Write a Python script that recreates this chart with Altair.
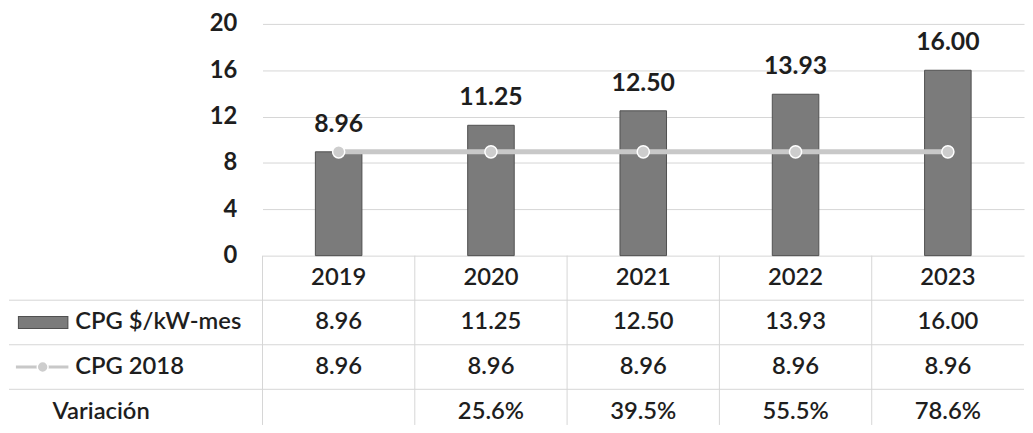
import altair as alt
import pandas as pd

# ---- data ----
years = ["2019", "2020", "2021", "2022", "2023"]
cpg = [8.96, 11.25, 12.50, 13.93, 16.00]
cpg_2018 = [8.96, 8.96, 8.96, 8.96, 8.96]
variacion = ["", "25.6%", "39.5%", "55.5%", "78.6%"]
row_labels = ["CPG $/kW-mes", "CPG 2018", "Variación"]
y_ticks = [0, 4, 8, 12, 16, 20]

# ---- style ----
W = 769
TOP_H = 234
ROW_H = 45
TABLE_H = 171
FONT = "Lato"
BAR = "#7b7b7b"
BAR_EDGE = "#505050"
LINE = "#c8c8c8"
PT = "#cdcdcd"
GRID = "#d6d6d6"
TEXT = "#1e1e1e"
TFS = 24

df = pd.DataFrame({"year": years, "cpg": cpg, "cpg2018": cpg_2018})

xscale = alt.Scale(domain=years, paddingInner=0, paddingOuter=0)
x_enc = alt.X("year:N", scale=xscale, axis=None, sort=years)
yscale = alt.Scale(domain=[0, 20], nice=False)

base = alt.Chart(df).encode(x=x_enc)
bars = base.mark_bar(width=47, color=BAR, stroke=BAR_EDGE, strokeWidth=1).encode(
    y=alt.Y("cpg:Q", scale=yscale,
            axis=alt.Axis(values=y_ticks, grid=True, gridColor=GRID, domain=False,
                          ticks=False, labelPadding=26, labelFontSize=24,
                          labelFont=FONT, labelFontWeight="bold", labelColor=TEXT,
                          title=None))
)
line = base.mark_line(color=LINE, strokeWidth=5).encode(
    y=alt.Y("cpg2018:Q", scale=yscale))
pts = base.mark_point(filled=True, shape="circle", size=150, fill=PT,
                      stroke="white", strokeWidth=1.5, opacity=1).encode(
    y=alt.Y("cpg2018:Q", scale=yscale))
labels = base.mark_text(dy=-20, baseline="alphabetic", font=FONT, fontSize=25,
                        fontWeight="bold", color=TEXT).encode(
    y=alt.Y("cpg:Q", scale=yscale), text=alt.Text("cpg:Q", format=".2f"))

top = alt.layer(bars, line, pts, labels).properties(width=W, height=TOP_H)

# ---- table ----
rows = []
for i, yv in enumerate(years):
    rows.append({"year": yv, "r": 0, "txt": yv})
    rows.append({"year": yv, "r": 1, "txt": f"{cpg[i]:.2f}"})
    rows.append({"year": yv, "r": 2, "txt": f"{cpg_2018[i]:.2f}"})
    rows.append({"year": yv, "r": 3, "txt": variacion[i]})
tdf = pd.DataFrame(rows)

tyscale = alt.Scale(domain=[0, TABLE_H / ROW_H], reverse=True, nice=False, zero=False)

cells = alt.Chart(tdf).transform_calculate(rc="datum.r + 0.5").mark_text(
    font=FONT, fontSize=TFS, fontWeight=600, color=TEXT, baseline="middle",
    align="center").encode(
    x=x_enc, y=alt.Y("rc:Q", scale=tyscale, axis=None), text="txt:N")

vlines = alt.Chart(pd.DataFrame({"year": years})).mark_rule(color=GRID).encode(
    x=alt.X("year:N", scale=xscale, axis=None, sort=years, bandPosition=0),
    y=alt.value(0), y2=alt.value(TABLE_H))

hlines = alt.Chart(pd.DataFrame({"b": [1, 2, 3]})).mark_rule(color=GRID).encode(
    y=alt.Y("b:Q", scale=tyscale, axis=None), x=alt.value(-256), x2=alt.value(W))

ldf = pd.DataFrame({"label": row_labels, "r": [1, 2, 3]})
lbase = alt.Chart(ldf).transform_calculate(rc="datum.r + 0.5")
lab_series = lbase.transform_filter("datum.r < 3").mark_text(
    font=FONT, fontSize=TFS, fontWeight=600, color=TEXT, baseline="middle",
    align="left").encode(
    x=alt.value(-189), y=alt.Y("rc:Q", scale=tyscale, axis=None), text="label:N")
lab_var = lbase.transform_filter("datum.r == 3").mark_text(
    font=FONT, fontSize=TFS, fontWeight=600, color=TEXT, baseline="middle",
    align="left").encode(
    x=alt.value(-212), y=alt.Y("rc:Q", scale=tyscale, axis=None), text="label:N")

key_bar = lbase.transform_filter("datum.r == 1").mark_rule(
    color=BAR_EDGE, strokeWidth=13).encode(
    x=alt.value(-247), x2=alt.value(-196), y=alt.Y("rc:Q", scale=tyscale, axis=None))
key_bar_in = lbase.transform_filter("datum.r == 1").mark_rule(
    color=BAR, strokeWidth=11).encode(
    x=alt.value(-246), x2=alt.value(-197), y=alt.Y("rc:Q", scale=tyscale, axis=None))
key_line = lbase.transform_filter("datum.r == 2").mark_rule(
    color=LINE, strokeWidth=3).encode(
    x=alt.value(-249), x2=alt.value(-196), y=alt.Y("rc:Q", scale=tyscale, axis=None))
key_pt = lbase.transform_filter("datum.r == 2").mark_point(
    filled=True, shape="circle", size=120, fill=PT, stroke="white",
    strokeWidth=1.5, opacity=1).encode(
    x=alt.value(-222), y=alt.Y("rc:Q", scale=tyscale, axis=None))

table = alt.layer(vlines, hlines, cells, lab_series, lab_var, key_bar, key_bar_in,
                  key_line, key_pt).properties(width=W, height=TABLE_H)

chart = alt.vconcat(top, table, spacing=0, bounds="flush").properties(
    padding={"left": 0, "top": 2, "right": 0, "bottom": 0}
).configure_view(stroke=None)

chart.save("out.html", embed_options={"renderer": "svg", "actions": False})
